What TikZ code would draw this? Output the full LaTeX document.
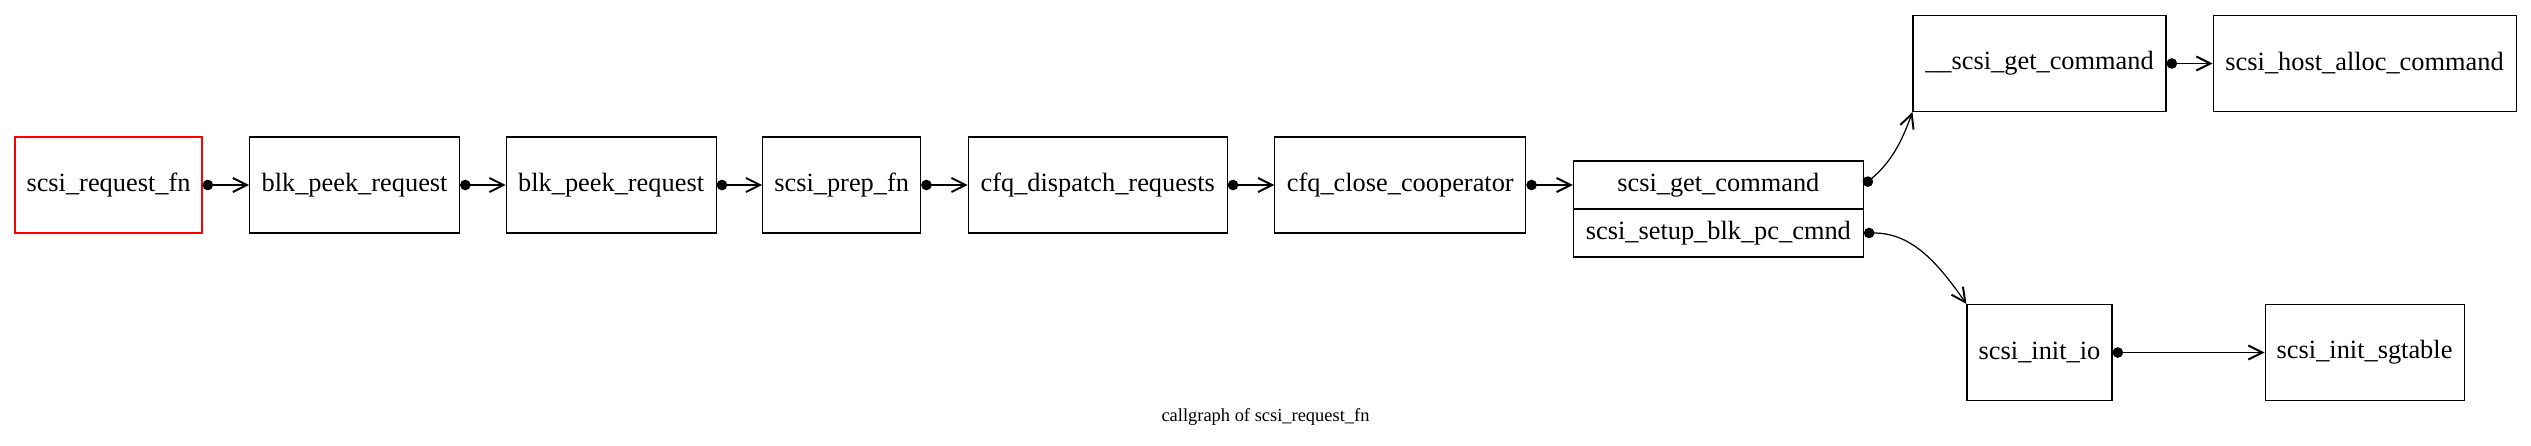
\documentclass[tikz,border=0pt]{standalone}
\usepackage{fontspec}
\setmainfont{Liberation Serif}
\usetikzlibrary{positioning, arrows.meta}

\begin{document}
\begin{tikzpicture}[
    func/.style={rectangle, draw, inner sep=0pt, minimum height=1.92cm, font=\fontsize{15}{18}\selectfont},
    part/.style={func, minimum height=0.96cm, minimum width=5.8cm},
    root/.style={draw=red},
    call/.style={{Circle[length=6pt]}-{Straight Barb[length=8pt, width=8pt, line width=1.1pt]}, line width=0.7pt},
    line width=0.6pt,
    node distance=0.93cm
]
\useasboundingbox (0,0) rectangle (50.62,-8.92);

% main call chain
\node[func, root, minimum width=3.74cm] (reqfn) at (2.17,-3.70) {scsi\_request\_fn};
\node[func, minimum width=4.2cm, right=of reqfn] (peek1) {blk\_peek\_request};
\node[func, minimum width=4.2cm, right=0.91cm of peek1] (peek2) {blk\_peek\_request};
\node[func, minimum width=3.16cm, right=0.91cm of peek2] (prepfn) {scsi\_prep\_fn};
\node[func, minimum width=5.18cm, right=of prepfn] (dispatch) {cfq\_dispatch\_requests};
\node[func, minimum width=5.02cm, right=of dispatch] (closecoop) {cfq\_close\_cooperator};

% record with two entries
\node[part, right=of closecoop] (getcmd) {scsi\_get\_command};
\node[part, below=-0.6pt of getcmd] (setupcmd) {scsi\_setup\_blk\_pc\_cmnd};

% branches
\node[func, minimum width=5.06cm] (underget) at (40.79,-1.27) {\_\_scsi\_get\_command};
\node[func, minimum width=6.06cm, right=0.92cm of underget] (hostalloc) {scsi\_host\_alloc\_command};
\node[func, minimum width=2.9cm] (initio) at (40.79,-7.05) {scsi\_init\_io};
\node[func, minimum width=3.98cm, right=3.04cm of initio] (sgtable) {scsi\_init\_sgtable};

\node[font=\fontsize{10.5}{12}\selectfont] (caption) at (25.31,-8.34) {callgraph of scsi\_request\_fn};

\draw[call] (reqfn.east) -- (peek1.west);
\draw[call] (peek1.east) -- (peek2.west);
\draw[call] (peek2.east) -- (prepfn.west);
\draw[call] (prepfn.east) -- (dispatch.west);
\draw[call] (dispatch.east) -- (closecoop.west);
\draw[call] (closecoop.east) -- (getcmd.west);
\draw[call] (getcmd.east) to[out=40, in=250] (underget.south west);
\draw[call] (underget.east) -- (hostalloc.west);
\draw[call] (setupcmd.east) to[out=0, in=125] (initio.north west);
\draw[call] (initio.east) -- (sgtable.west);

\end{tikzpicture}
\end{document}
